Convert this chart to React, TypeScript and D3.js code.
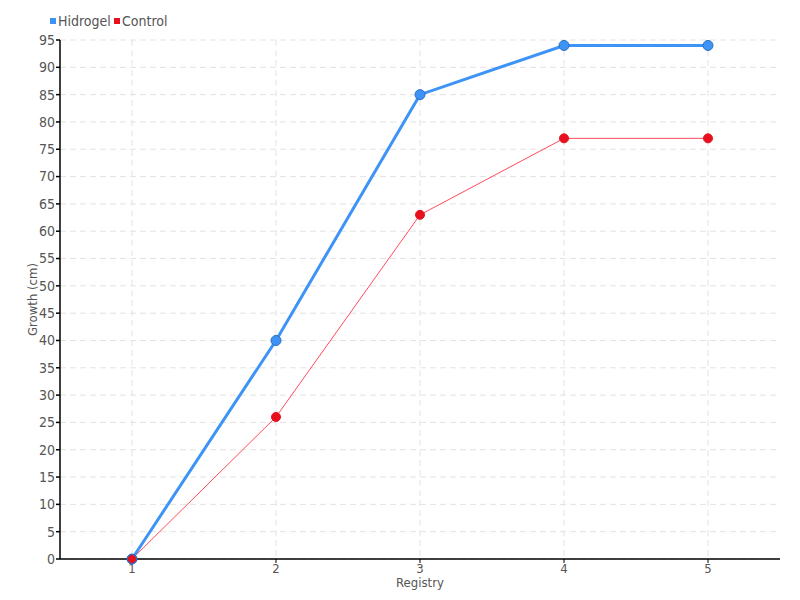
import React from "react";
import * as d3 from "d3";

const categories = ["1", "2", "3", "4", "5"];
const hidrogel = [0, 40, 85, 94, 94];
const control = [0, 26, 63, 77, 77];
const yTicks = d3.range(0, 100, 5);

const W = 800, H = 600;
const left = 60, right = 780, top = 40, bottom = 559;
const font = "'DejaVu Sans Condensed', 'Liberation Sans Narrow', sans-serif";

export default function App() {
  const x = d3.scaleBand<string>().domain(categories).range([left, right]);
  const y = d3.scaleLinear().domain([0, 95]).range([bottom, top]);
  const cx = (c: string) => (x(c) as number) + x.bandwidth() / 2;
  const line = d3.line<number>().x((_, i) => cx(categories[i])).y((d) => y(d));
  return (
    <svg width={W} height={H} style={{ position: "absolute", left: 0, top: 0, background: "#fff" }}>
      {yTicks.map((t) => (
        <line key={"gy" + t} x1={left} x2={right} y1={y(t)} y2={y(t)} stroke="#e3e3e3" strokeDasharray="6,4" />
      ))}
      {categories.map((c) => (
        <line key={"gx" + c} x1={cx(c)} x2={cx(c)} y1={top} y2={bottom} stroke="#e3e3e3" strokeDasharray="6,4" />
      ))}
      <line x1={left} x2={left} y1={top} y2={bottom} stroke="#000" strokeWidth={1.5} />
      <line x1={left} x2={right} y1={bottom} y2={bottom} stroke="#000" strokeWidth={1.5} />
      {yTicks.map((t) => (
        <g key={"ty" + t}>
          <line x1={left - 4} x2={left} y1={y(t)} y2={y(t)} stroke="#000" strokeWidth={1.5} />
          <text x={left - 5} y={y(t)} dy="0.35em" textAnchor="end" fontFamily={font} fontSize={14} fill="#555">{t}</text>
        </g>
      ))}
      {categories.map((c) => (
        <g key={"tx" + c}>
          <line x1={cx(c)} x2={cx(c)} y1={bottom} y2={bottom + 4} stroke="#000" strokeWidth={1} />
          <text x={cx(c)} y={bottom + 14} textAnchor="middle" fontFamily={font} fontSize={13} fill="#555">{c}</text>
        </g>
      ))}
      <text x={(left + right) / 2} y={587} textAnchor="middle" fontFamily={font} fontSize={13} fill="#555">Registry</text>
      <text transform={`translate(37,${(top + bottom) / 2}) rotate(-90)`} textAnchor="middle" fontFamily={font} fontSize={13} fill="#555">Growth (cm)</text>

      <path d={line(control) as string} fill="none" stroke="#ff4a5c" strokeWidth={1} />
      {control.map((v, i) => (
        <circle key={"c" + i} cx={cx(categories[i])} cy={y(v)} r={4.5} fill="#e8101f" stroke="#e8101f" />
      ))}
      <path d={line(hidrogel) as string} fill="none" stroke="#3d94f6" strokeWidth={3} />
      {hidrogel.map((v, i) => (
        <circle key={"h" + i} cx={cx(categories[i])} cy={y(v)} r={5} fill="#3d94f6" stroke="#2a6fc0" strokeWidth={1} />
      ))}
      <circle cx={cx(categories[0])} cy={y(0)} r={4.5} fill="#e8101f" stroke="#2a6fc0" strokeWidth={1} />

      <rect x={50} y={18} width={6} height={6} fill="#3d94f6" />
      <text x={58} y={26} fontFamily={font} fontSize={14} fill="#555">Hidrogel</text>
      <rect x={114} y={18} width={6} height={6} fill="#e8101f" />
      <text x={122} y={26} fontFamily={font} fontSize={14} fill="#555">Control</text>
    </svg>
  );
}
